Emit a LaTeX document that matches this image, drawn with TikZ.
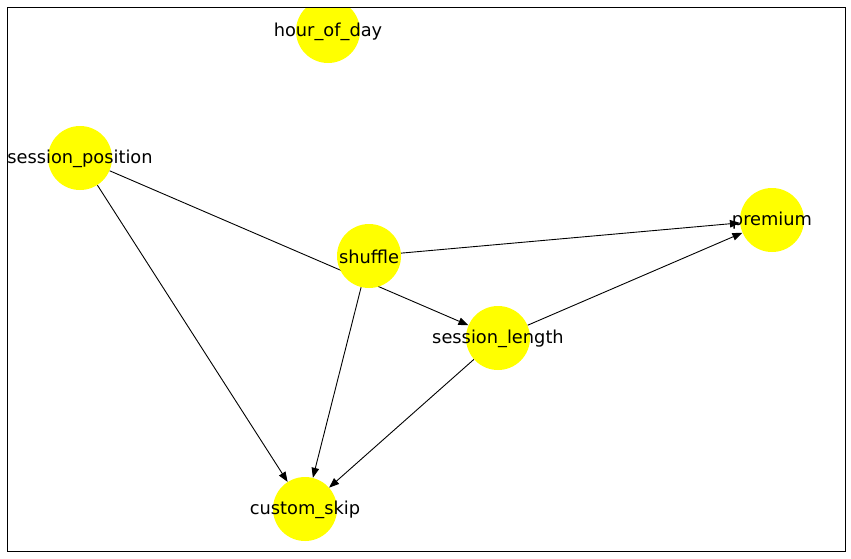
\documentclass[tikz,border=0pt]{standalone}
\usepackage{fontspec}
\setmainfont{DejaVu Sans}
\usetikzlibrary{arrows.meta,backgrounds}
\definecolor{nodeyellow}{RGB}{255,255,0}

\begin{document}
\begin{tikzpicture}[x=1pt, y=-1pt,
        var/.style={circle, fill=nodeyellow, minimum size=64pt, inner sep=0pt},
        lbl/.style={font=\fontsize{17.8}{20}\selectfont, inner sep=0pt, yshift=-0.8pt},
        arrow/.style={-{Triangle[length=10pt,width=7.5pt]}, line width=0.9pt},
        frame/.style={draw, line width=0.9pt}
    ]
        \useasboundingbox (0,0) rectangle (851,558);

        % Variables
        \begin{scope}
        \clip (7,7) rectangle (845,551);
        \node[var, label={[lbl]center:hour\_of\_day}] (hour) at (328,31) {};
        \node[var, label={[lbl]center:session\_position}] (spos) at (80,158) {};
        \node[var, label={[lbl]center:shuffle}] (shuffle) at (369,256) {};
        \node[var, label={[lbl]center:premium}] (premium) at (772,220) {};
        \node[var, label={[lbl]center:session\_length}] (slen) at (498,338) {};
        \node[var, label={[lbl]center:custom\_skip}] (skip) at (305,509) {};
        \end{scope}

        % Arrows
        \begin{scope}[on background layer]
        \draw[arrow] (spos) -- (slen);
        \draw[arrow] (spos) -- (skip);
        \draw[arrow] (shuffle) -- (premium);
        \draw[arrow] (shuffle) -- (skip);
        \draw[arrow] (slen) -- (premium);
        \draw[arrow] (slen) -- (skip);
        \end{scope}

        % Frame
        \draw[frame] (7,7) rectangle (845,551);
    \end{tikzpicture}
\end{document}
